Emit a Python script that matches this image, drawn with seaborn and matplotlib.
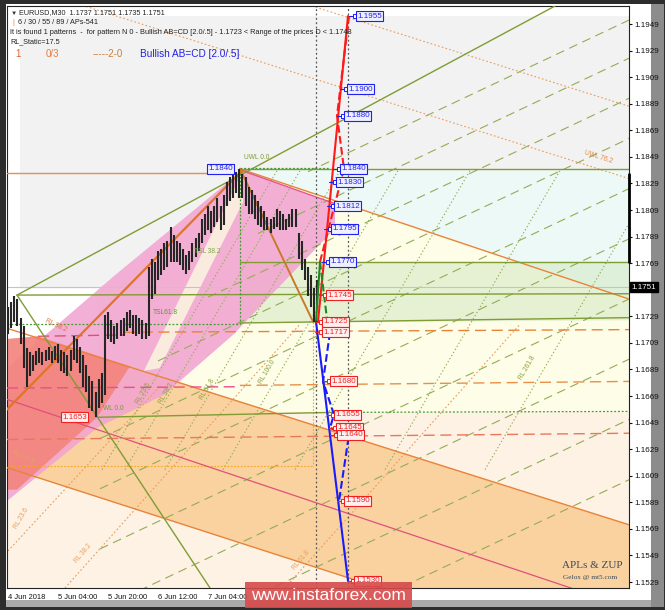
import matplotlib
matplotlib.use("Agg")
import matplotlib.pyplot as plt
import seaborn as sns
from matplotlib.patches import Polygon, Rectangle

# ---------------- data ----------------
bar_hours = list(range(100))
bar_high = [1.1736, 1.1740, 1.1744, 1.1742, 1.1728, 1.1722, 1.1705, 1.1702, 1.1700, 1.1703,
            1.1705, 1.1702, 1.1704, 1.1706, 1.1703, 1.1707, 1.1708, 1.1704, 1.1702, 1.1700,
            1.1704, 1.1714, 1.1712, 1.1706, 1.1700, 1.1692, 1.1684, 1.1680, 1.1672, 1.1682,
            1.1686, 1.1730, 1.1732, 1.1726, 1.1722, 1.1724, 1.1726, 1.1728, 1.1732, 1.1734,
            1.1730, 1.1730, 1.1728, 1.1726, 1.1724, 1.1766, 1.1772, 1.1770, 1.1778, 1.1780,
            1.1784, 1.1786, 1.1796, 1.1790, 1.1786, 1.1784, 1.1780, 1.1775, 1.1778, 1.1784,
            1.1788, 1.1792, 1.1802, 1.1806, 1.1812, 1.1808, 1.1812, 1.1818, 1.1812, 1.1820,
            1.1830, 1.1834, 1.1836, 1.1838, 1.1840, 1.1836, 1.1834, 1.1826, 1.1824, 1.1820,
            1.1816, 1.1812, 1.1808, 1.1804, 1.1802, 1.1804, 1.1810, 1.1808, 1.1806, 1.1802,
            1.1806, 1.1810, 1.1810, 1.1792, 1.1786, 1.1772, 1.1766, 1.1760, 1.1750, 1.1756]
bar_low = [1.1716, 1.1720, 1.1725, 1.1722, 1.1708, 1.1690, 1.1676, 1.1684, 1.1688, 1.1692,
           1.1694, 1.1692, 1.1695, 1.1696, 1.1694, 1.1696, 1.1694, 1.1688, 1.1686, 1.1684,
           1.1688, 1.1696, 1.1694, 1.1686, 1.1676, 1.1672, 1.1660, 1.1658, 1.1653, 1.1660,
           1.1664, 1.1670, 1.1712, 1.1710, 1.1708, 1.1712, 1.1714, 1.1714, 1.1718, 1.1720,
           1.1716, 1.1714, 1.1716, 1.1712, 1.1712, 1.1714, 1.1742, 1.1746, 1.1756, 1.1760,
           1.1764, 1.1766, 1.1770, 1.1770, 1.1770, 1.1768, 1.1764, 1.1761, 1.1764, 1.1770,
           1.1774, 1.1778, 1.1784, 1.1790, 1.1794, 1.1792, 1.1796, 1.1800, 1.1794, 1.1798,
           1.1812, 1.1816, 1.1818, 1.1822, 1.1818, 1.1818, 1.1812, 1.1806, 1.1806, 1.1802,
           1.1798, 1.1796, 1.1794, 1.1794, 1.1792, 1.1795, 1.1796, 1.1794, 1.1794, 1.1794,
           1.1796, 1.1796, 1.1796, 1.1772, 1.1764, 1.1756, 1.1744, 1.1736, 1.1725, 1.1735]

price_ticks = [1.1529, 1.1549, 1.1569, 1.1589, 1.1609, 1.1629, 1.1649, 1.1669, 1.1689, 1.1709,
               1.1729, 1.1769, 1.1789, 1.1809, 1.1829, 1.1849, 1.1869, 1.1889, 1.1909,
               1.1929, 1.1949]
time_ticks = [0, 16, 32, 48, 64]
time_labels = ["4 Jun 2018", "5 Jun 04:00", "5 Jun 20:00", "6 Jun 12:00", "7 Jun 04:00"]

blue_levels = [1.1955, 1.1900, 1.1880, 1.1840, 1.1830, 1.1812, 1.1795, 1.1770]
blue_box_h = [111.68, 108.8, 107.84, 106.56, 105.28, 104.64, 103.68, 103.04]
red_levels = [1.1745, 1.1725, 1.1717, 1.1680, 1.1655, 1.1645, 1.1640, 1.1590, 1.1530]
red_box_h = [102.08, 100.8, 100.8, 103.36, 104.64, 105.28, 105.6, 107.84, 111.04]

last_price = 1.1751
fan_right_prices = [1.19520, 1.19233, 1.18931, 1.18629, 1.18251, 1.17873, 1.17420, 1.16967, 1.16514, 1.16060]
fan_left_h = [96.0, 80.0, 64.0, 48.0, 29.44, 29.44, 29.44, 29.44, 29.44, 29.44]
rl_bottom_h = [30.08, 37.44, 50.24, 68.8, 91.84, 120.64, 152.64]
rl_top_h = [86.08, 93.44, 106.24, 124.8, 147.84, 176.64, 208.64]

# zones (time in hours, price)
zone_pale_peach = [(-0.32, 1.16567), (198.72, 1.16567), (198.72, 1.15245), (-0.32, 1.15245)]
zone_yellow = [(74.24, 1.1840), (198.72, 1.1742), (198.72, 1.16567), (28.48, 1.16567), (28.48, 1.1750)]
zone_cyan = [(74.24, 1.1840), (198.72, 1.1840), (198.72, 1.1742)]
zone_grey = [(3.84, 1.1955), (198.72, 1.1955), (198.72, 1.1840), (74.24, 1.1840), (37.44, 1.1750), (3.84, 1.1750)]
zone_green = [(74.24, 1.1770), (198.72, 1.1770), (198.72, 1.1726), (74.24, 1.1724)]
zone_peach = [(9.6, 1.17133), (198.72, 1.15721), (198.72, 1.15245), (119.04, 1.15245), (-0.32, 1.16151), (-0.32, 1.16763)]
zone_pink = [(-0.32, 1.1690), (34.24, 1.17600), (74.88, 1.18387), (104.64, 1.18138), (104.64, 1.17950),
             (72.0, 1.17150), (50.0, 1.16700), (28.48, 1.16450), (-0.32, 1.15900)]
zone_wedge = [(74.88, 1.18372), (43.5, 1.16880), (48.5, 1.16900), (75.2, 1.18150)]
zone_red = [(-0.32, 1.1712), (9.6, 1.17140), (39.04, 1.16914), (28.48, 1.16529), (2.88, 1.15985), (-0.32, 1.15985)]

# ---------------- figure ----------------
sns.set_style("white")
plt.rcParams['font.family'] = ['Liberation Sans', 'DejaVu Sans']

W, H = 665, 610
fig = plt.figure(figsize=(W / 100, H / 100), dpi=100, facecolor='#2c2c2c')
fig.add_artist(Rectangle((6 / W, 3 / H), 658 / W, 603 / H, transform=fig.transFigure,
                         facecolor='#a9a9a9', edgecolor='none', zorder=-3))
fig.add_artist(Rectangle((651 / W, 3 / H), 13 / W, 603 / H, transform=fig.transFigure,
                         facecolor='#8c8c8c', edgecolor='none', zorder=-2.5))
fig.add_artist(Rectangle((6 / W, 10 / H), 645 / W, 596 / H, transform=fig.transFigure,
                         facecolor='#ffffff', edgecolor='none', zorder=-2))

ax = fig.add_axes([7 / W, 22 / H, 622 / W, 582 / H])
ax.set_xlim(-0.32, 198.72)
ax.set_ylim(1.15245, 1.19626)


def poly(pts, color, alpha=1.0, z=0.5):
    ax.add_patch(Polygon(pts, closed=True, facecolor=color, edgecolor='none', alpha=alpha, zorder=z))


poly(zone_pale_peach, '#fdf2e4', z=0.1)
poly(zone_yellow, '#fefde8', z=0.2)
poly(zone_cyan, '#edf9f6', z=0.2)
poly(zone_grey, '#f2f2f2', z=0.2)
poly(zone_green, '#d6eac8', alpha=0.6, z=0.3)
poly(zone_peach, '#f9d2a0', z=0.4)
poly(zone_pink, '#f2a2d0', alpha=0.85, z=0.5)
poly(zone_wedge, '#fbf8e2', alpha=0.85, z=0.6)
poly(zone_red, '#f2857f', alpha=0.92, z=0.7)


def seg(pts, **kw):
    ax.plot([p[0] for p in pts], [p[1] for p in pts], **kw)


# fan of dashed olive lines
for pr, hl in zip(fan_right_prices, fan_left_h):
    drop = 0.01881 * (198.72 - hl) / (198.72 - 29.44)
    seg([(hl, pr - drop), (198.72, pr)], color='#93ac55', lw=0.8, dashes=(8, 5), zorder=2)
# steep dotted olive lines
for hb, ht in zip(rl_bottom_h, rl_top_h):
    seg([(hb, 1.16136), (ht, 1.18387)], color='#93ac55', lw=0.8, dashes=(1.2, 2), zorder=2)

# orange dotted lines
for pts in [[(21.44, 1.19649), (198.72, 1.18327)], [(97.28, 1.19626), (198.72, 1.18871)],
            [(0, 1.15524), (48.64, 1.16763)], [(18.24, 1.15245), (93.44, 1.17231)],
            [(88.64, 1.15245), (163.84, 1.17231)]]:
    seg(pts, color='#ec9a5a', lw=0.8, dashes=(1.5, 2), zorder=2)
seg([(-0.32, 1.16166), (97.6, 1.16166)], color='#f5a623', lw=0.8, dashes=(1.5, 1.5), zorder=2)
seg([(97.6, 1.1725), (97.6, 1.16166)], color='#f5a623', lw=0.8, dashes=(1.5, 1.5), zorder=2)

# orange solid channel lines
for pts in [[(74.24, 1.1840), (198.72, 1.1742)], [(-0.32, 1.1720), (198.72, 1.15721)],
            [(-0.32, 1.16151), (119.04, 1.15245)]]:
    seg(pts, color='#e8843a', lw=1.0, zorder=3)
seg([(-0.32, 1.18372), (64, 1.18372)], color='#e8904a', lw=1.0, zorder=3)
seg([(-0.32, 1.16665), (184.96, 1.15207)], color='#e0507a', lw=0.9, zorder=3)
seg([(74.88, 1.18387), (104.64, 1.18138)], color='#e05a8a', lw=1.0, zorder=3)

# horizontal dashed levels
seg([(37.44, 1.1717), (198.72, 1.1719)], color='#e8843a', lw=1.0, dashes=(8, 4), zorder=3)
seg([(9.6, 1.1714), (37.44, 1.1715)], color='#e05070', lw=1.0, dashes=(8, 4), zorder=3)
seg([(-0.32, 1.1675), (74.24, 1.1676)], color='#e8508a', lw=1.0, dashes=(8, 4), zorder=3)
seg([(74.24, 1.1677), (198.72, 1.1680)], color='#e8904a', lw=1.0, dashes=(8, 4), zorder=3)
seg([(-0.32, 1.16363), (198.72, 1.1641)], color='#e8785a', lw=1.0, dashes=(8, 4), zorder=3)

# olive solid lines
for pts in [[(74.24, 1.1840), (198.72, 1.1840)], [(74.24, 1.1770), (198.72, 1.1770)],
            [(2.88, 1.1745), (198.72, 1.1746)], [(74.24, 1.1724), (198.72, 1.1728)],
            [(28.48, 1.1653), (104, 1.16567)], [(2.88, 1.1745), (64.64, 1.15245)],
            [(2.88, 1.1745), (175.04, 1.19626)]]:
    seg(pts, color='#7f9c35', lw=1.0, zorder=3)
# green dotted frame
for pts in [[(74.24, 1.1840), (74.24, 1.1723)], [(-0.32, 1.1723), (74.24, 1.1723)],
            [(74.24, 1.1841), (103.0, 1.1841)], [(104, 1.16567), (198.72, 1.16574)]]:
    seg(pts, color='#3f9a2f', lw=0.9, dashes=(1.5, 1.5), zorder=3)

# bid line
ax.axhline(last_price, color='#c4c4c4', lw=0.8, zorder=2)
# AB / CD legs
seg([(-0.32, 1.16589), (74.88, 1.18387)], color='#e0742a', lw=1.6, zorder=4)
seg([(74.24, 1.1840), (97.6, 1.1725)], color='#c87a2c', lw=1.4, zorder=4)

# vertical dotted time lines
for hx in [98.56, 108.8]:
    ax.axvline(hx, color='#555555', lw=0.9, dashes=(1.5, 2), zorder=4)

# candles
ax.vlines(bar_hours, bar_low, bar_high, color='#262626', lw=1.5, zorder=6)

# projection lines (seaborn)
def sline(pts, color, lw, ls='-'):
    sns.lineplot(x=[p[0] for p in pts], y=[p[1] for p in pts], sort=False, estimator=None,
                 ax=ax, color=color, lw=lw, linestyle=ls, zorder=8)


sline([(99.2, 1.1725), (108.8, 1.1955)], '#ff1a1a', 1.5)
sline([(99.84, 1.1770), (107.52, 1.1840), (105.28, 1.1880), (109.12, 1.1955)], '#ff1a1a', 1.5, '--')
sline([(98.56, 1.1725), (99.84, 1.1770)], '#1f8a1f', 1.5)
sline([(99.84, 1.1770), (102.08, 1.1727)], '#1f8a1f', 1.5, '--')
sline([(98.56, 1.1725), (108.8, 1.1530)], '#1a1aff', 1.5)
sline([(103.04, 1.1717), (100.8, 1.1680), (104.32, 1.1655), (103.04, 1.1645), (109.12, 1.1640),
       (105.92, 1.1590)], '#1a1aff', 1.5, '--')


def box_label(h, p, txt, col, face, conn=True):
    if conn:
        ax.plot([h - 2.6, h - 0.4], [p, p], color=col, lw=0.8, zorder=19)
        ax.plot([h - 0.6], [p], marker='s', ms=2.2, mfc='white', mec=col, mew=0.7, zorder=19)
    ax.text(h, p, txt, fontsize=5.8, color=col, ha='left', va='center', zorder=20,
            bbox=dict(boxstyle='square,pad=0.18', fc=face, ec=col, lw=0.8))


for lv, hh in zip(blue_levels, blue_box_h):
    box_label(hh, lv, f"{lv:.4f}", '#2020f0', '#eef0ff')
for lv, hh in zip(red_levels, red_box_h):
    box_label(hh, lv, f"{lv:.4f}", '#f02020', '#fff0f0')
box_label(64.0, 1.1840, "1.1840", '#2020f0', '#eef0ff', conn=False)
box_label(17.28, 1.1653, "1.1653", '#f02020', '#fff0f0', conn=False)

# small line labels
small = [(75.6, 1.1846, "UWL 0.0", '#7f9c35', 0), (184.0, 1.1843, "UWL 76.2", '#e8843a', -18),
         (46.4, 1.1729, "TSL61.8", '#4fa030', 0), (59.5, 1.1775, "TSL 38.2", '#7fa840', 0),
         (30.4, 1.1657, "WL 0.0", '#6fa030', 0),
         (40.5, 1.1662, "RL 23.6", '#8aa040', 60), (48.0, 1.1662, "RL 38.2", '#8aa040', 60),
         (61.0, 1.1665, "RL 61.8", '#8aa040', 60), (80.0, 1.1677, "RL 100.0", '#8aa040', 60),
         (163.0, 1.1680, "RL 261.8", '#8aa040', 60),
         (1.5, 1.1568, "RL 23.6", '#e8a060', 60), (21.0, 1.1542, "RL 38.2", '#e8a060', 50),
         (90.5, 1.1537, "RL 61.8", '#e8a060', 50), (1.0, 1.1617, "RL 61.8", '#e8a060', -25),
         (11.5, 1.1716, "RL 38.2", '#e07040', -25)]
for hh, pp, t, c, r in small:
    ax.text(hh, pp, t, fontsize=4.8, color=c, rotation=r, ha='left', va='bottom', zorder=9)

# axes styling
ax.yaxis.tick_right()
ax.set_yticks(price_ticks)
ax.set_yticklabels([f"{v:.4f}" for v in price_ticks])
ax.tick_params(axis='y', labelsize=5.8, length=2, pad=2, colors='#111111')
ax.set_xticks(time_ticks)
ax.set_xticklabels(time_labels, ha='left')
ax.tick_params(axis='x', labelsize=5.4, length=3, pad=1.5, colors='#111111')
for s in ax.spines.values():
    s.set_color('#222222')
    s.set_linewidth(0.8)
ax.grid(False)
ax.set_xlabel("")
ax.set_ylabel("")

# current price marker
ax.text(1.004, last_price, "1.1751", transform=ax.get_yaxis_transform(), fontsize=5.8, color='white',
        ha='left', va='center', zorder=30, bbox=dict(boxstyle='square,pad=0.2', fc='black', ec='black'))
ax.plot([198.72, 198.72], [1.1836, 1.1770], color='black', lw=2, clip_on=False, zorder=30)

# header texts
def ftext(x, y, s, **kw):
    fig.text(x / W, 1 - y / H, s, va='center', ha='left', **kw)


ftext(11, 13, "▼", fontsize=4.5, color='#333333')
ftext(19, 13, "EURUSD,M30  1.1737 1.1751 1.1735 1.1751", fontsize=5.2, color='#222222')
ftext(12, 23, "|", fontsize=5.2, color='#e8843a')
ftext(18, 23, "6 / 30 / 55 / 89 / APs-541", fontsize=5.2, color='#222222')
ftext(10, 32, "It is found 1 patterns  -  for pattern N 0 - Bullish AB=CD [2.0/.5] - 1.1723 < Range of the prices D < 1.1743",
      fontsize=5.35, color='#222222')
ftext(10, 42, "RL_Static=17.5", fontsize=5.2, color='#222222')
ftext(15, 54, "1", fontsize=7, color='#e06030')
ftext(46, 54, "0/3", fontsize=7, color='#e08040')
ftext(93, 54, "-----2-0", fontsize=7, color='#c88040')
ftext(140, 54, "Bullish AB=CD [2.0/.5]", fontsize=7.2, color='#2020e0')

# watermark
ftext(562, 566, "APLs & ZUP", fontsize=8, color='#3c4a5c', family='Liberation Serif')
ftext(563, 577, "Gelox @ mt5.com", fontsize=5.2, color='#3c4a5c', family='Liberation Serif')

# banner
fig.add_artist(Rectangle((245 / W, 2 / H), 167 / W, 26 / H, transform=fig.transFigure,
                         facecolor='#d64a4a', edgecolor='none', alpha=0.9, zorder=40))
fig.text(328 / W, 1 - 595 / H, "www.instaforex.com", fontsize=12.5, color='white',
         ha='center', va='center', zorder=41)

fig.savefig("out.png", dpi=100, facecolor=fig.get_facecolor())
